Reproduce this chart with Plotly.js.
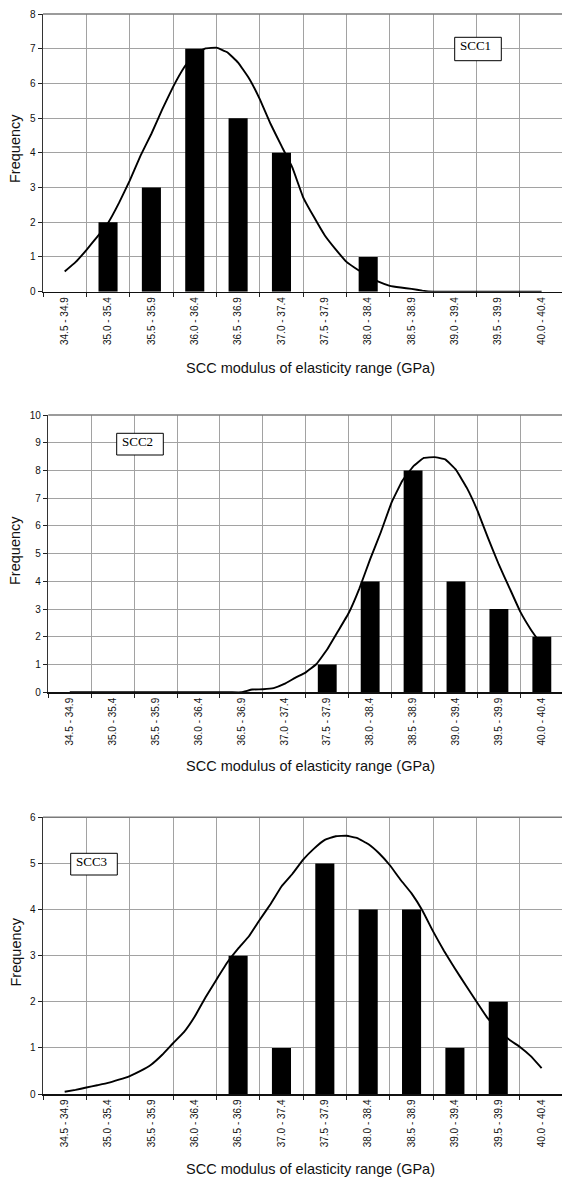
<!DOCTYPE html>
<html><head><meta charset="utf-8">
<script src="https://cdn.plot.ly/plotly-3.0.1.min.js"></script>
<style>html,body{margin:0;padding:0;background:#fff}#chart{width:562px;height:1178px}</style>
</head><body><div id="chart"></div>
<script>
// ---------- data ----------
const categories = ["34.5 - 34.9","35.0 - 35.4","35.5 - 35.9","36.0 - 36.4","36.5 - 36.9","37.0 - 37.4",
                    "37.5 - 37.9","38.0 - 38.4","38.5 - 38.9","39.0 - 39.4","39.5 - 39.9","40.0 - 40.4"];
const scc1Freq = [0,2,3,7,5,4,0,1,0,0,0,0];
const scc2Freq = [0,0,0,0,0,0,1,4,8,4,3,2];
const scc3Freq = [0,0,0,0,3,1,5,4,4,1,2,0];
// positions (in category units) at which the fitted curves were read
const curvePos = [0,0.25,0.5,0.75,1,1.25,1.5,1.75,2,2.25,2.5,2.75,3,3.25,3.5,3.75,4,4.25,4.5,4.75,
                  5,5.25,5.5,5.75,6,6.25,6.5,6.75,7,7.25,7.5,7.75,8,8.25,8.5,8.75,9,9.25,9.5,9.75,
                  10,10.25,10.5,10.75,11];
const scc1Curve = [0.58,0.85,1.2,1.58,1.98,2.55,3.2,3.92,4.55,5.25,5.9,6.45,6.85,7.01,7.03,6.9,6.6,6.15,5.55,4.83,
                   4.2,3.58,2.72,2.15,1.62,1.22,0.86,0.64,0.45,0.28,0.17,0.12,0.08,0.03,0,0,0,0,0,0,
                   0,0,0,0,0];
const scc2Curve = [0,0,0,0,0,0,0,0,0,0,0,0,0,0,0,0,0,0.1,0.11,0.15,
                   0.3,0.52,0.72,1.02,1.55,2.2,2.86,3.75,4.8,5.78,6.85,7.63,8.14,8.45,8.48,8.4,8.02,7.38,6.55,5.55,
                   4.6,3.75,2.9,2.25,1.7];
const scc3Curve = [0.05,0.09,0.14,0.19,0.24,0.31,0.39,0.5,0.64,0.85,1.1,1.34,1.68,2.1,2.48,2.85,3.15,3.42,3.78,4.12,
                   4.5,4.77,5.08,5.32,5.51,5.59,5.6,5.55,5.42,5.22,4.96,4.64,4.35,3.98,3.52,3.1,2.72,2.36,2.0,1.65,
                   1.4,1.18,1.02,0.82,0.56];
const panelLabels = ["SCC1","SCC2","SCC3"];
const yMaxima = [8,10,6];
const xTitle = "SCC modulus of elasticity range (GPa)";
const yTitle = "Frequency";

// ---------- layout helpers ----------
const W = 562, H = 1178, L = 43;
const px2x = px => (px - L) / (W - L);
const py2y = py => 1 - py / H;
const SANS = "Liberation Sans, Arial, sans-serif";
const SERIF = "Liberation Serif, Times New Roman, serif";

const panelGeom = [
  {top:14,    bottom:291.7, left:42.7, box:[454.7,37.3,501.3,60.7], tx:457.5, ty:45.5,  titleY:368,  yTitleY:149},
  {top:415,   bottom:692.3, left:48.3, box:[116.7,433.3,163.3,455], tx:119.5, ty:441.5, titleY:766,  yTitleY:551},
  {top:817.3, bottom:1094,  left:42.7, box:[70.7,853.3,117.3,875],  tx:73.5,  ty:861.5, titleY:1169, yTitleY:952.5}
];
const freqs = [scc1Freq, scc2Freq, scc3Freq];
const curves = [scc1Curve, scc2Curve, scc3Curve];

const traces = [];
const layout = {
  width: W, height: H,
  margin: {l: L, r: 0, t: 0, b: 0, pad: 0},
  paper_bgcolor: '#fff', plot_bgcolor: '#fff',
  showlegend: false,
  bargap: 0.56,
  font: {family: SANS, color: '#111', size: 10},
  shapes: [], annotations: []
};

const XR = [-0.5, 11.47];
const GRID = '#a2a2a2';
for (let k = 0; k < 3; k++) {
  const g = panelGeom[k];
  const s = k === 0 ? '' : String(k + 1);
  const so = String(k + 4);
  const dom = [px2x(g.left), 1];
  layout['xaxis' + s] = {
    type: 'category', domain: dom, anchor: 'y' + s, range: XR,
    tickson: 'boundaries', ticks: 'outside', ticklen: 4, tickcolor: '#222', tickwidth: 1,
    showgrid: true, gridcolor: GRID, gridwidth: 1,
    showline: true, linecolor: '#111', linewidth: 1.5,
    tickangle: -90, tickfont: {family: SANS, size: 10, color: '#111'},
    automargin: false, zeroline: false, fixedrange: true
  };
  layout['yaxis' + s] = {
    domain: [py2y(g.bottom), py2y(g.top)], anchor: 'x' + s, range: [0, yMaxima[k]],
    dtick: 1, tick0: 0, ticks: 'outside', ticklen: 4, tickcolor: '#222', tickwidth: 1,
    showgrid: true, gridcolor: GRID, gridwidth: 1,
    showline: true, linecolor: '#333', linewidth: 1.5, zeroline: false,
    tickfont: {family: SANS, size: 10, color: '#111'}, automargin: false, fixedrange: true
  };
  layout['xaxis' + so] = {
    overlaying: 'x' + s, anchor: 'y' + s, domain: dom, range: XR, visible: false, fixedrange: true
  };
  traces.push({
    type: 'bar', x: categories, y: freqs[k], xaxis: 'x' + s, yaxis: 'y' + s,
    marker: {color: '#000', line: {width: 0}}, hoverinfo: 'skip'
  });
  traces.push({
    type: 'scatter', mode: 'lines', x: curvePos, y: curves[k], xaxis: 'x' + so, yaxis: 'y' + s,
    line: {color: '#000', width: 1.9, shape: 'spline', smoothing: 0.25}, hoverinfo: 'skip', cliponaxis: false
  });
  // top border of plot area
  layout.shapes.push({type: 'line', xref: 'x' + s + ' domain', yref: 'y' + s + ' domain',
    x0: 0, x1: 1, y0: 1, y1: 1, line: {color: '#7a7a7a', width: 1.5}});
  // label box
  layout.shapes.push({type: 'rect', xref: 'paper', yref: 'paper', layer: 'above',
    x0: px2x(g.box[0]), x1: px2x(g.box[2]), y0: py2y(g.box[3]), y1: py2y(g.box[1]),
    fillcolor: '#fff', line: {color: '#000', width: 1}});
  layout.annotations.push({xref: 'paper', yref: 'paper', x: px2x(g.tx), y: py2y(g.ty),
    xanchor: 'left', yanchor: 'middle', showarrow: false, text: panelLabels[k],
    font: {family: SERIF, size: 13, color: '#000'}});
  // axis titles
  layout.annotations.push({xref: 'paper', yref: 'paper', x: px2x(310.5), y: py2y(g.titleY),
    xanchor: 'center', yanchor: 'middle', showarrow: false, text: xTitle,
    font: {family: SANS, size: 14.5, color: '#111'}});
  layout.annotations.push({xref: 'paper', yref: 'paper', x: px2x(15), y: py2y(g.yTitleY),
    xanchor: 'center', yanchor: 'middle', showarrow: false, text: yTitle, textangle: -90,
    font: {family: SANS, size: 14.5, color: '#111'}});
}

Plotly.newPlot('chart', traces, layout, {staticPlot: true, displayModeBar: false});
</script></body></html>
